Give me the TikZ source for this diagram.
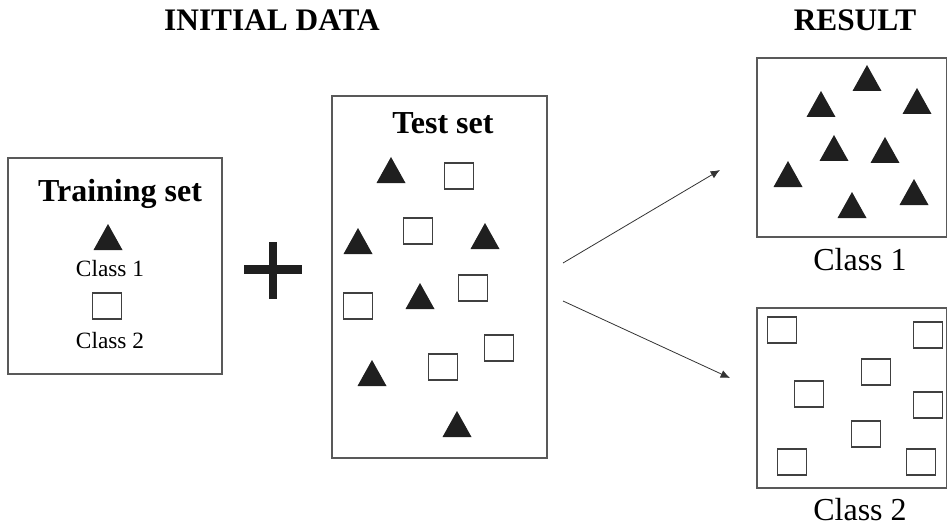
\documentclass[tikz,border=0pt]{standalone}
\usepackage{fontspec}
\setmainfont{Liberation Serif}
\usepackage{tikz}
\usetikzlibrary{arrows.meta}

\newcommand{\tri}[2]{\fill[black!88] (#1-14.5,#2+13) -- (#1+14.5,#2+13) -- (#1,#2-13) -- cycle;}
\newcommand{\sqr}[2]{\draw[black!75,line width=0.8pt] (#1-14.5,#2-13) rectangle (#1+14.5,#2+13);}

\tikzset{
  setbox/.style={draw=black!65,line width=0.8pt},
  title/.style={font=\fontsize{23.5}{28}\selectfont\bfseries},
  boxtitle/.style={font=\fontsize{24}{28}\selectfont\bfseries},
  small/.style={font=\fontsize{17.5}{21}\selectfont},
  big/.style={font=\fontsize{24}{28}\selectfont},
  link/.style={black!80,line width=0.6pt,-{Latex[length=7pt,width=6pt]}}
}

\begin{document}
\begin{tikzpicture}[x=0.75pt,y=-0.75pt]
\useasboundingbox (0,0) rectangle (947,528);

% titles
\node[title] (init) at (272,20) {INITIAL DATA};
\node[title] (res) at (855,20) {RESULT};

% training set
\draw[setbox] (8,158) rectangle (222,374);
\node[boxtitle] (train) at (120,194) {Training set};
\tri{108}{237}
\node[small] (c1) at (110,269) {Class 1};
\sqr{107}{306}
\node[small] (c2) at (110,341) {Class 2};

% plus
\fill[black!88] (244,265) rectangle (302,274);
\fill[black!88] (269,242) rectangle (277,299);

% test set
\draw[setbox] (332,96) rectangle (547,458);
\node[boxtitle] (test) at (443,123) {Test set};
\tri{391}{170}
\tri{358}{241}
\tri{485}{236}
\tri{420}{296}
\tri{372}{373}
\tri{457}{424}
\sqr{459}{176}
\sqr{418}{231}
\sqr{473}{288}
\sqr{358}{306}
\sqr{499}{348}
\sqr{443}{367}

% arrows
\coordinate (up0) at (563,263);
\coordinate (up1) at (720,170);
\coordinate (dn0) at (563,301);
\coordinate (dn1) at (730,378);
\draw[link] (up0) -- (up1);
\draw[link] (dn0) -- (dn1);

% class 1 result
\draw[setbox] (757,58) rectangle (946.5,237);
\tri{867}{78}
\tri{821}{104}
\tri{917}{101}
\tri{834}{148}
\tri{885}{150}
\tri{788}{174}
\tri{914}{192}
\tri{852}{205}
\node[big] (r1) at (860,260) {Class 1};

% class 2 result
\draw[setbox] (757,308) rectangle (946.5,488);
\sqr{782}{330}
\sqr{928}{335}
\sqr{876}{372}
\sqr{809}{394}
\sqr{928}{405}
\sqr{866}{434}
\sqr{792}{462}
\sqr{921}{462}
\node[big] (r2) at (860,510) {Class 2};
\end{tikzpicture}
\end{document}
